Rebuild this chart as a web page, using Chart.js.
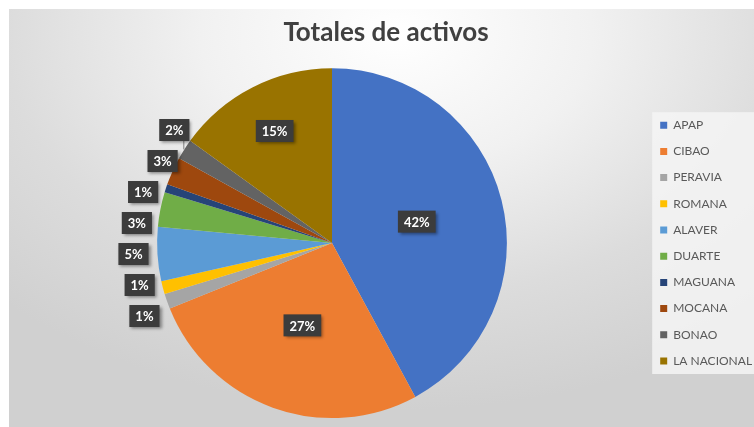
<!DOCTYPE html>
<html>
<head>
<meta charset="utf-8">
<script src="https://cdn.jsdelivr.net/npm/chart.js@4.4.1/dist/chart.umd.min.js"></script>
<style>
  body { margin: 0; background: #fff; }
  #wrap {
    position: absolute; left: 9px; top: 9px; width: 745px; height: 418px;
    background: radial-gradient(ellipse 75% 90% at 52% 6%, #ffffff 0%, #f1f1f1 35%, #dcdcdc 70%, #d0d0d0 100%);
  }
</style>
</head>
<body>
<div id="wrap"><canvas id="pieChart"></canvas></div>
<script>
const bancos = ['APAP', 'CIBAO', 'PERAVIA', 'ROMANA', 'ALAVER', 'DUARTE', 'MAGUANA', 'MOCANA', 'BONAO', 'LA NACIONAL'];
const activos = [42.1, 26.8, 1.4, 1.2, 5.0, 3.2, 0.75, 2.6, 1.9, 15.05];
const colores = ['#4472C4', '#ED7D31', '#A5A5A5', '#FFC000', '#5B9BD5', '#70AD47', '#264478', '#9E480E', '#636363', '#997300'];

// fondo claro detras de la leyenda
const legendBox = {
    id: 'legendBox',
    beforeDraw(chart) {
        const boxes = chart.legend && chart.legend.legendHitBoxes;
        if (!boxes || !boxes.length) return;
        const first = boxes[0], last = boxes[boxes.length - 1];
        const ctx = chart.ctx;
        ctx.save();
        ctx.fillStyle = 'rgba(245,245,245,0.85)';
        ctx.fillRect(first.left - 8, first.top - 7, chart.width - first.left + 8, last.top + last.height - first.top + 14);
        ctx.restore();
    }
};

// etiquetas de porcentaje en cajas oscuras
const sliceLabels = {
    id: 'sliceLabels',
    afterDatasetsDraw(chart) {
        const ctx = chart.ctx;
        const meta = chart.getDatasetMeta(0);
        const total = activos.reduce((a, b) => a + b, 0);
        const inside = [];
        const outside = [];
        meta.data.forEach((arc, i) => {
            const p = arc.getProps(['x', 'y', 'startAngle', 'endAngle', 'outerRadius'], true);
            const mid = (p.startAngle + p.endAngle) / 2;
            const frac = activos[i] / total;
            const text = Math.round(frac * 100) + '%';
            const r = p.outerRadius;
            if (frac > 0.1) {
                const d = frac > 0.2 ? 0.5 : 0.72;
                inside.push({ x: p.x + Math.cos(mid) * r * d, y: p.y + Math.sin(mid) * r * d, text });
            } else {
                outside.push({
                    text,
                    x: p.x + Math.cos(mid) * (r + 24),
                    ideal: p.y + Math.sin(mid) * r,
                    y: p.y + Math.sin(mid) * r,
                    rimX: p.x + Math.cos(mid) * r,
                    rimY: p.y + Math.sin(mid) * r
                });
            }
        });
        // separar etiquetas externas
        outside.sort((a, b) => a.ideal - b.ideal);
        const gap = 31;
        for (let k = 0; k < 300; k++) {
            for (let j = 0; j < outside.length - 1; j++) {
                const a = outside[j], b = outside[j + 1];
                const over = gap - (b.y - a.y);
                if (over > 0) { a.y -= over / 2; b.y += over / 2; }
            }
        }
        ctx.save();
        ctx.font = 'bold 13px Lato, "DejaVu Sans", sans-serif';
        ctx.textAlign = 'center';
        ctx.textBaseline = 'middle';
        const drawBox = (l) => {
            const w = ctx.measureText(l.text).width + 12;
            const h = 22;
            ctx.save();
            ctx.shadowColor = 'rgba(0,0,0,0.4)';
            ctx.shadowBlur = 3;
            ctx.shadowOffsetX = 2;
            ctx.shadowOffsetY = 2;
            ctx.fillStyle = '#3c3c3c';
            ctx.fillRect(l.x - w / 2, l.y - h / 2, w, h);
            ctx.restore();
            ctx.fillStyle = '#ffffff';
            ctx.fillText(l.text, l.x, l.y + 1);
        };
        outside.forEach(l => {
            if (l.ideal - l.y > 10) {
                // etiqueta desplazada: linea guia hasta el borde
                l.x = l.rimX - 10;
                ctx.strokeStyle = '#7f7f7f';
                ctx.lineWidth = 1;
                ctx.beginPath();
                ctx.moveTo(l.rimX - 0.5, l.y + 11);
                ctx.lineTo(l.rimX - 0.5, l.rimY);
                ctx.stroke();
            }
            drawBox(l);
        });
        inside.forEach(drawBox);
        ctx.restore();
    }
};

new Chart(document.getElementById('pieChart').getContext('2d'), {
    type: 'pie',
    data: {
        labels: bancos,
        datasets: [{
            data: activos,
            backgroundColor: colores,
            borderWidth: 0
        }]
    },
    options: {
        responsive: true,
        maintainAspectRatio: false,
        animation: false,
        layout: { padding: { left: 9, right: 0, top: 0, bottom: 9 } },
        plugins: {
            title: {
                display: true,
                text: 'Totales de activos',
                color: '#404040',
                font: { family: 'Lato, "DejaVu Sans", sans-serif', size: 26, weight: 'bold' },
                padding: { top: 8, bottom: 20 }
            },
            legend: {
                position: 'right',
                fullSize: false,
                maxWidth: 108,
                labels: {
                    boxWidth: 7,
                    boxHeight: 7,
                    padding: 14.2,
                    color: '#595959',
                    font: { family: 'Lato, "DejaVu Sans", sans-serif', size: 12 }
                }
            },
            tooltip: { enabled: false }
        }
    },
    plugins: [legendBox, sliceLabels]
});
</script>
</body>
</html>
